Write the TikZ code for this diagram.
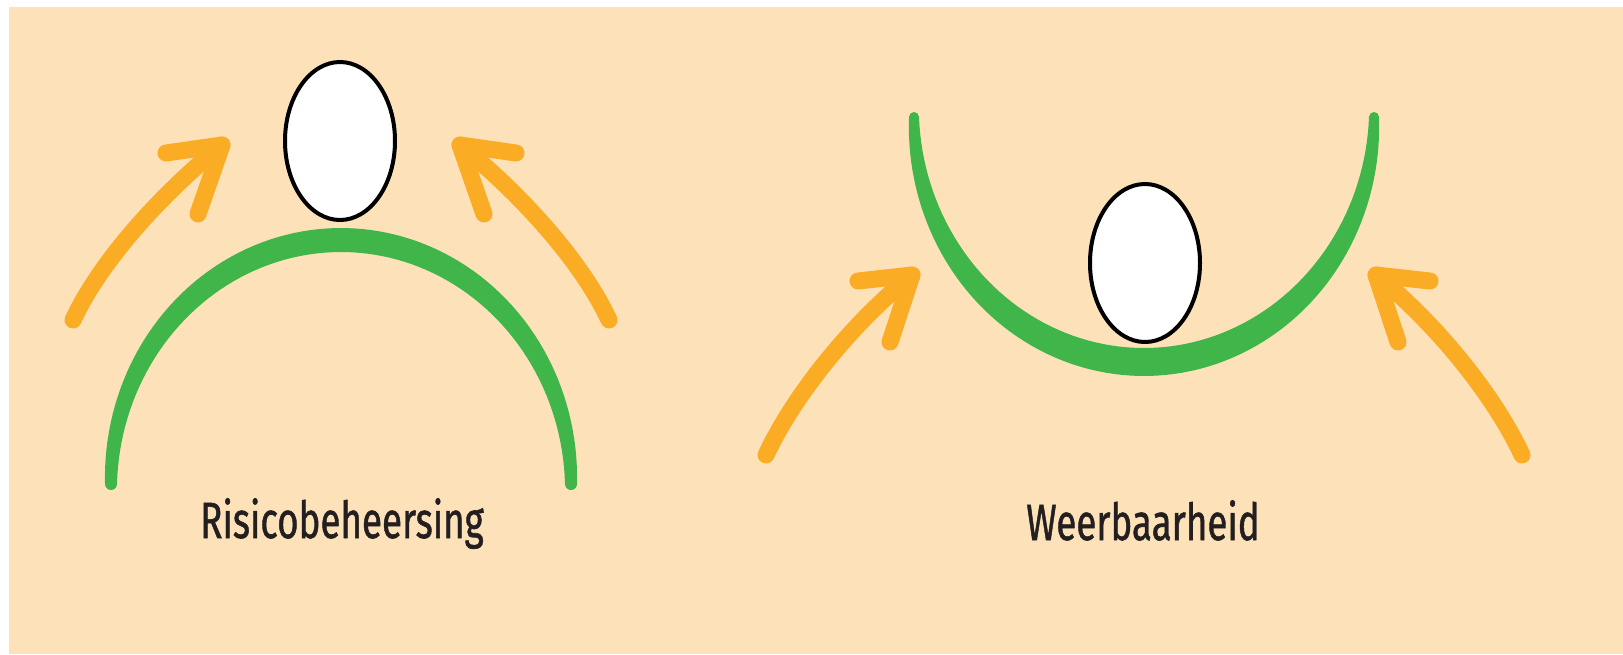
\documentclass[tikz,border=0pt]{standalone}
\usepackage{fontspec}
\setmainfont{Fira Sans}
\newfontfamily\capfont{Fira Sans}[FakeBold=1.2]
\definecolor{bgpeach}{HTML}{FDE2B9}
\definecolor{archgreen}{HTML}{3FB54A}
\definecolor{arroworange}{HTML}{FAAC25}
\definecolor{txtdark}{HTML}{231F20}
\usetikzlibrary{shapes.geometric}
\tikzset{
  push/.style={draw=arroworange,line width=17pt,line cap=round,line join=round},
  ball/.style={ellipse,draw=black,line width=4pt,fill=white,minimum width=110pt,minimum height=158pt,inner sep=0pt},
  caption/.style={font=\capfont\fontsize{51}{51}\selectfont,text=txtdark,anchor=base,inner sep=0pt}
}
\begin{document}
\begin{tikzpicture}[x=1pt,y=-1pt]
\useasboundingbox (0,0) rectangle (1623,654);
\fill[white] (0,0) rectangle (1623,654);
\fill[bgpeach] (9,7) rectangle (1623,654);
% left group: arch
\fill[archgreen] plot[domain=0:180,samples=90] ({341+(230+(12+12*sin(\x))/2)*cos(\x)},{484-(244+(12+12*sin(\x))/2)*sin(\x)})
  -- plot[domain=180:0,samples=90] ({341+(230-(12+12*sin(\x))/2)*cos(\x)},{484-(244-(12+12*sin(\x))/2)*sin(\x)}) -- cycle;
\fill[archgreen] (571,484) circle (6) (111,484) circle (6);
\node[ball] (b1) at (340,141) {};
% left group arrows
\coordinate (s1) at (73,320); \coordinate (t1) at (222,145);
\coordinate (h1a) at (166,153); \coordinate (h1b) at (198,214);
\draw[push] (s1) .. controls (100,262) and (160,195) .. (t1);
\draw[push] (h1a) -- (t1) -- (h1b);
\coordinate (s2) at (609,320); \coordinate (t2) at (460,145);
\coordinate (h2a) at (516,153); \coordinate (h2b) at (484,214);
\draw[push] (s2) .. controls (582,262) and (522,195) .. (t2);
\draw[push] (h2a) -- (t2) -- (h2b);
\node[caption] (l1) at (342,538) {\scalebox{0.72}[1]{Risicobeheersing}};
% right group: bowl
\fill[archgreen] plot[domain=0:180,samples=90] ({1144+(230+(10+18*sin(\x))/2)*cos(\x)},{117+(245+(10+18*sin(\x))/2)*sin(\x)})
  -- plot[domain=180:0,samples=90] ({1144+(230-(10+18*sin(\x))/2)*cos(\x)},{117+(245-(10+18*sin(\x))/2)*sin(\x)}) -- cycle;
\fill[archgreen] (1374,117) circle (5) (914,117) circle (5);
\node[ball] (b2) at (1145,263) {};
% right group arrows
\coordinate (s3) at (766,455); \coordinate (t3) at (912,275);
\coordinate (h3a) at (858,281); \coordinate (h3b) at (890,342);
\draw[push] (s3) .. controls (793,397) and (850,325) .. (t3);
\draw[push] (h3a) -- (t3) -- (h3b);
\coordinate (s4) at (1522,455); \coordinate (t4) at (1376,275);
\coordinate (h4a) at (1430,281); \coordinate (h4b) at (1398,342);
\draw[push] (s4) .. controls (1495,397) and (1438,325) .. (t4);
\draw[push] (h4a) -- (t4) -- (h4b);
\node[caption] (l2) at (1143,540) {\scalebox{0.72}[1]{Weerbaarheid}};
\end{tikzpicture}
\end{document}
